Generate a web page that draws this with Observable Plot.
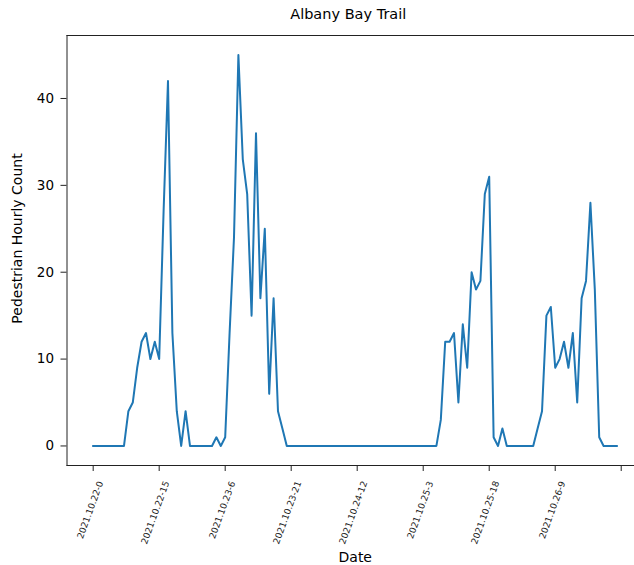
<!DOCTYPE html>
<html>
<head>
<meta charset="utf-8">
<script src="https://cdn.jsdelivr.net/npm/d3@7"></script>
<script src="https://cdn.jsdelivr.net/npm/@observablehq/plot@0.6"></script>
<style>
  html, body { margin: 0; padding: 0; background: white; }
  #chart svg { overflow: hidden; font-family: "DejaVu Sans", sans-serif; }
</style>
</head>
<body>
<div id="chart"></div>
<script>
const title = "Albany Bay Trail";
const xLabel = "Date";
const yLabel = "Pedestrian Hourly Count";

// Hourly pedestrian counts, 2021.10.22-0 through 2021.10.26-23 (one value per hour)
const counts = [
  0, 0, 0, 0, 0, 0, 0, 0, 4, 5, 9, 12, 13, 10, 12, 10, 27, 42, 13, 4, 0, 4, 0, 0,
  0, 0, 0, 0, 1, 0, 1, 13, 24, 45, 33, 29, 15, 36, 17, 25, 6, 17, 4, 2, 0, 0, 0, 0,
  0, 0, 0, 0, 0, 0, 0, 0, 0, 0, 0, 0, 0, 0, 0, 0, 0, 0, 0, 0, 0, 0, 0, 0,
  0, 0, 0, 0, 0, 0, 0, 3, 12, 12, 13, 5, 14, 9, 20, 18, 19, 29, 31, 1, 0, 2, 0, 0,
  0, 0, 0, 0, 0, 2, 4, 15, 16, 9, 10, 12, 9, 13, 5, 17, 19, 28, 18, 1, 0, 0, 0, 0
];

// x tick positions (hour index) and their labels
const tickHours = [0, 15, 30, 45, 60, 75, 90, 105, 120];
const tickLabels = [
  "2021.10.22-0", "2021.10.22-15", "2021.10.23-6", "2021.10.23-21",
  "2021.10.24-12", "2021.10.25-3", "2021.10.25-18", "2021.10.26-9", ""
];
const yTicks = [0, 10, 20, 30, 40];

const series = counts.map((v, i) => ({hour: i, count: v}));
const ticks = tickHours.map((h, i) => ({hour: h, label: tickLabels[i]}));

const n = counts.length - 1;
const yMax = d3.max(counts);

const chart = Plot.plot({
  width: 634,
  height: 565,
  marginLeft: 66.5,
  marginTop: 35,
  marginBottom: 100,
  marginRight: 0,
  style: {fontFamily: "DejaVu Sans, sans-serif", color: "#000", background: "white"},
  x: {domain: [-0.05 * n, n * 1.05], range: [66.5, 642.5], axis: null},
  y: {domain: [-0.05 * yMax, yMax * 1.05], axis: null},
  marks: [
    Plot.frame({anchor: "top", stroke: "#222"}),
    Plot.frame({anchor: "left", stroke: "#222"}),
    Plot.frame({anchor: "bottom", stroke: "#222"}),
    Plot.axisY({ticks: yTicks, tickSize: 6, tickPadding: 7, fontSize: 13.5, label: null, stroke: "#222"}),
    Plot.axisX({ticks: tickHours, tickSize: 6, tickFormat: () => "", label: null, stroke: "#222"}),
    Plot.text(ticks, {
      x: "hour", text: "label", frameAnchor: "bottom",
      rotate: -70, textAnchor: "end", lineAnchor: "middle",
      dx: 7.5, dy: 16, fontSize: 9, fill: "#222"
    }),
    Plot.line(series, {
      x: "hour", y: "count", stroke: "#1f77b4", strokeWidth: 2,
      strokeLinejoin: "round", strokeLinecap: "square"
    }),
    Plot.text([title], {frameAnchor: "top", dx: -2.5, dy: -21, fontSize: 14.5, textAnchor: "middle", lineAnchor: "middle", fill: "#000"}),
    Plot.text([xLabel], {frameAnchor: "bottom", dx: 4.5, dy: 92, fontSize: 14, textAnchor: "middle", lineAnchor: "middle", fill: "#000"}),
    Plot.text([yLabel], {frameAnchor: "left", rotate: -90, dx: -49.5, dy: -12, fontSize: 14, textAnchor: "middle", lineAnchor: "middle", fill: "#000"})
  ]
});
document.getElementById("chart").appendChild(chart);
</script>
</body>
</html>
